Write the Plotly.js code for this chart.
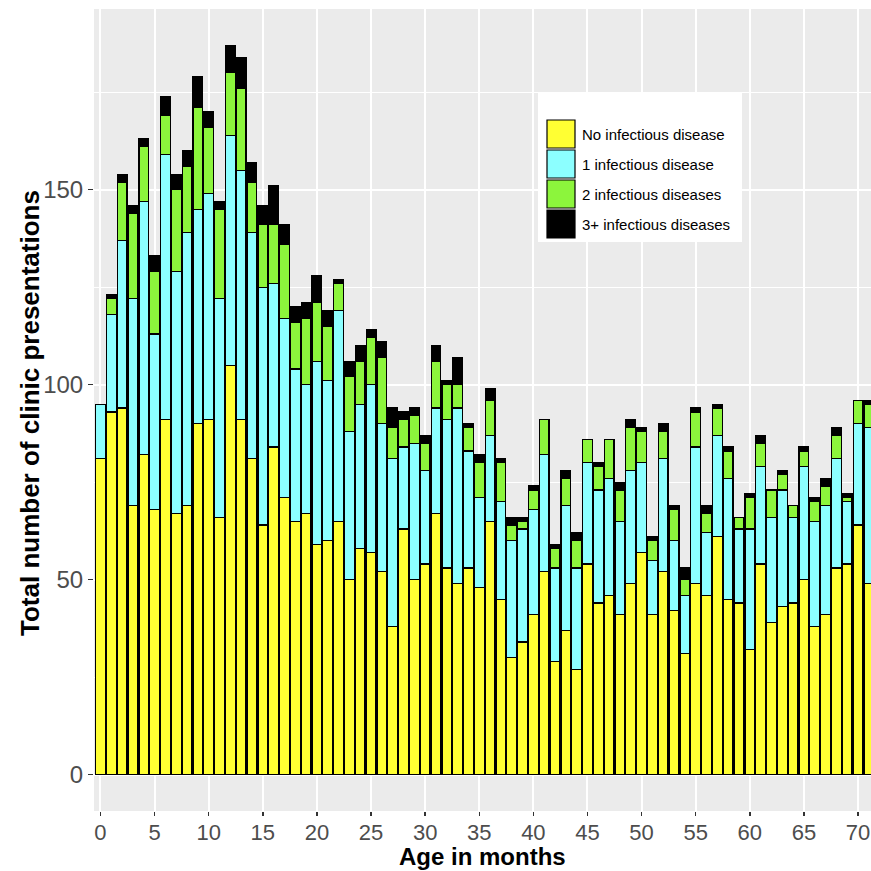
<!DOCTYPE html>
<html>
<head>
<meta charset="utf-8">
<script src="https://cdn.plot.ly/plotly-3.0.1.min.js"></script>
<style>
html,body{margin:0;padding:0;background:#fff;}
#chart{width:871px;height:871px;}
</style>
</head>
<body>
<div id="chart"></div>
<script>
// Age in months (categories)
const ages = Array.from({length: 72}, (_, i) => i);

// Number of clinic presentations by number of infectious diseases
const noInfectious = [81,93,94,69,82,68,91,67,69,90,91,66,105,91,81,64,84,71,65,67,59,60,65,50,58,57,52,38,63,50,54,67,53,49,53,48,65,45,30,34,41,52,29,37,27,54,44,46,41,49,57,41,52,42,31,49,46,61,45,44,32,54,39,43,44,50,38,41,53,54,64,49];
const oneInfectious = [14,25,43,53,65,45,68,62,70,55,58,56,59,64,58,61,42,46,39,33,47,41,54,38,37,43,38,43,21,35,24,27,38,45,30,23,22,25,30,29,27,30,24,32,26,26,29,30,24,29,23,14,29,18,15,35,16,26,31,19,31,25,27,30,22,29,27,28,28,16,26,40];
const twoInfectious = [0,4,15,22,14,16,10,21,17,26,17,23,16,21,13,16,15,19,12,17,15,14,7,14,11,12,17,8,7,7,7,12,9,6,6,9,9,10,4,2,5,9,5,7,7,6,6,10,8,11,8,5,7,8,4,9,5,7,7,3,8,6,7,4,3,4,5,5,6,1,6,6];
const threePlusInfectious = [0,1,2,2,2,4,5,4,4,8,4,2,7,8,5,5,10,5,4,4,7,4,1,4,4,2,4,5,2,2,2,4,1,7,1,2,3,1,2,1,1,0,1,2,2,0,1,0,2,2,1,1,2,1,3,1,2,1,1,0,1,2,0,1,0,1,1,2,2,1,0,1];

const seriesNames = ["No infectious disease", "1 infectious disease", "2 infectious diseases", "3+ infectious diseases"];
const seriesColors = ["#FFFF33", "#8CFFFF", "#8CF53C", "#000000"];
const seriesValues = [noInfectious, oneInfectious, twoInfectious, threePlusInfectious];

const xTickVals = [0,5,10,15,20,25,30,35,40,45,50,55,60,65,70];
const yTickVals = [0,50,100,150];
const xTitle = 'Age in months';
const yTitle = 'Total number of clinic presentations';

const traces = seriesValues.map((vals, i) => ({
  type: 'bar',
  x: ages,
  y: vals,
  name: seriesNames[i],
  marker: {color: seriesColors[i], line: {color: '#000000', width: 1.2}},
  showlegend: false,
  hoverinfo: 'x+y+name'
}));

// Plot area geometry (pixels) for the hand-drawn legend and titles
const W = 871, H = 871;
const mL = 94, mR = 0, mT = 9, mB = 60;
const pw = W - mL - mR, ph = H - mT - mB;
const px = x => (x - mL) / pw;
const py = y => (H - mB - y) / ph;

const FONT = 'Liberation Sans, Arial, sans-serif';
const shapes = [];
const annotations = [];
shapes.push({type:'rect', xref:'paper', yref:'paper', x0:px(538), x1:px(742), y0:py(242), y1:py(92),
  fillcolor:'#FFFFFF', line:{width:0}, layer:'above'});
seriesNames.forEach((nm, i) => {
  const top = 120 + i * 30;
  shapes.push({type:'rect', xref:'paper', yref:'paper', x0:px(547), x1:px(575), y0:py(top+28), y1:py(top),
    fillcolor: seriesColors[i], line:{color:'#000000', width:1.2}, layer:'above'});
  annotations.push({xref:'paper', yref:'paper', x:px(580), y:py(top+14), xanchor:'left', yanchor:'middle',
    text:nm, showarrow:false, font:{family:FONT, size:15, color:'#000000'}});
});
// Axis titles
annotations.push({xref:'paper', yref:'paper', x:px(483), y:py(872), xanchor:'center', yanchor:'bottom',
  text:'<b>' + xTitle + '</b>', showarrow:false, font:{family:FONT, size:24, color:'#000000'}});
annotations.push({xref:'paper', yref:'paper', x:px(30), y:py(413), xanchor:'center', yanchor:'middle',
  textangle:-90, text:'<b>' + yTitle + '</b>', showarrow:false, font:{family:FONT, size:26, color:'#000000'}});

const layout = {
  width: W, height: H,
  margin: {l: mL, r: mR, t: mT, b: mB, pad: 0},
  paper_bgcolor: '#FFFFFF',
  plot_bgcolor: '#EBEBEB',
  barmode: 'stack',
  bargap: 0.1,
  font: {family: FONT},
  xaxis: {
    range: [-0.6, 71.2],
    tickmode: 'array', tickvals: xTickVals, ticktext: xTickVals.map(String),
    showgrid: true, gridcolor: '#FFFFFF', gridwidth: 2,
    zeroline: false, showline: false,
    ticks: 'outside', ticklen: 4, tickwidth: 1.5, tickcolor: '#333333',
    tickfont: {size: 22, color: '#4D4D4D'},
    ticklabelstandoff: -2,
    ticklabeloverflow: 'allow',
    fixedrange: true
  },
  yaxis: {
    range: [-9.35, 196.35],
    tickmode: 'array', tickvals: yTickVals, ticktext: yTickVals.map(String),
    showgrid: true, gridcolor: '#FFFFFF', gridwidth: 2,
    minor: {dtick: 25, tick0: 0, showgrid: true, gridcolor: '#FFFFFF', gridwidth: 1},
    zeroline: false, showline: false,
    ticks: 'outside', ticklen: 5, tickwidth: 1.5, tickcolor: '#333333',
    tickfont: {size: 24, color: '#4D4D4D'},
    fixedrange: true
  },
  shapes: shapes,
  annotations: annotations,
  showlegend: false
};

Plotly.newPlot('chart', traces, layout, {displayModeBar: false, staticPlot: true});
</script>
</body>
</html>
